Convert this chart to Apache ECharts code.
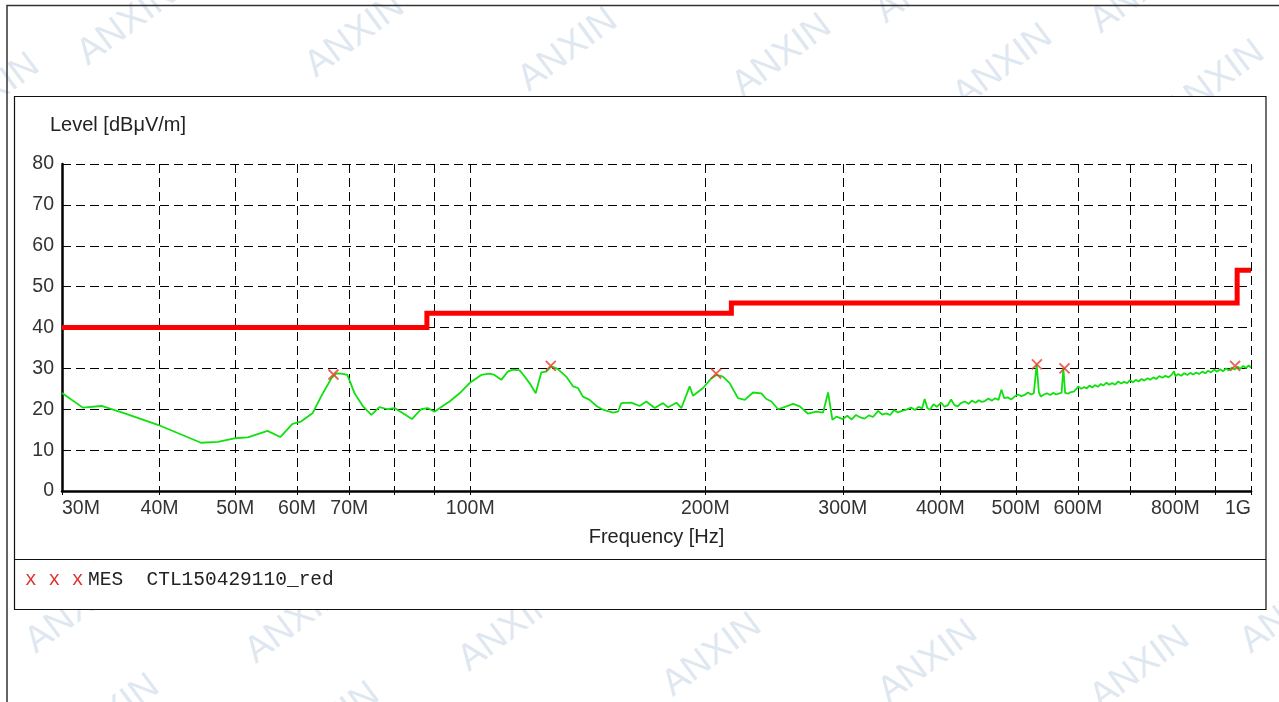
<!DOCTYPE html>
<html><head><meta charset="utf-8">
<script src="https://cdn.jsdelivr.net/npm/echarts@6/dist/echarts.min.js"></script>
<style>html,body{margin:0;padding:0;background:#fff}#c{width:1279px;height:702px}</style>
</head><body><div id="c"></div>
<script>
// ---- data ----
const gridFreqs = [30,40,50,60,70,80,90,100,200,300,400,500,600,700,800,900,1000];
const labelFreqs = [30,40,50,60,70,100,200,300,400,500,600,800,1000];
const yTicks = [0,10,20,30,40,50,60,70,80];
const limitFreq = [30,88,88,216,216,960,960,1000];
const limitLevel = [40,40,43.5,43.5,46,46,54,54];
const traceFreq = [30.0,31.9,33.7,36.1,39.8,45.2,47.5,49.9,51.9,55.0,57.1,59.2,60.7,62.8,64.4,66.4,67.4,68.4,69.6,71.1,72.9,74.7,76.5,78.4,80.0,82.0,84.2,86.5,88.2,90.0,92.7,94.1,96.9,99.8,103.3,105.9,107.4,109.6,111.7,113.4,115.7,117.4,119.1,121.3,123.3,125.1,127.0,129.5,132.7,135.4,137.4,139.4,142.2,145.1,147.9,152.3,154.6,156.1,160.8,164.8,168.1,172.3,176.5,179.2,183.7,186.4,191.0,192.9,198.7,203.7,206.7,210.7,214.9,220.3,224.7,230.3,236.0,239.5,243.1,247.9,254.1,259.1,264.3,270.8,277.6,283.1,287.3,291.0,294.5,
  300,304,308,312,316,320,324,328,333,337,341,345,349,353,357,362,367,371,375,379,382,385,388,392,396,401,405,409,413,417,421,425,430,435,439,444,448,452,456,461,466,470,475,479,483,488,493,498,503,508,513,518,523,527,530,531.5,535,538,543,548,553,558,563,568,572,575,578,583,588,593,597,601,606,611,616,621,626,631,637,642,647,653,658,664,670,676,682,688,694,700,706,712,718,724,730,737,743,750,756,763,770,777,784,791,797,800,807,814,821,829,836,843,851,858,866,874,881,889,897,905,913,921,929,937,945,953,961,969,977,985,993,1000];
const traceLevel = [24.0,20.4,20.8,19.0,16.2,11.8,12.0,12.9,13.1,14.7,13.2,16.4,17.0,19.0,23.1,27.6,28.8,28.7,28.4,23.9,20.7,18.6,20.5,20.0,20.3,19.0,17.6,20.0,20.3,19.4,21.1,21.9,23.9,26.4,28.4,28.7,28.4,27.2,29.2,29.7,29.5,28.0,26.4,23.9,29.0,29.2,30.5,29.8,28.0,25.6,25.2,23.1,22.3,20.8,19.9,19.2,19.4,21.5,21.6,20.8,21.9,20.3,21.5,20.5,21.6,20.3,25.6,23.3,25.2,27.6,28.4,28.0,26.4,22.7,22.3,24.1,23.9,22.5,21.9,20.0,20.7,21.3,20.7,18.9,19.4,19.2,24.1,17.4,18.2,
  17.6,18.4,17.5,18.6,18.0,17.7,18.5,18.1,19.6,18.7,19.0,18.6,19.8,19.2,19.6,19.9,20.4,19.8,20.6,20.2,22.5,20.3,19.9,21.2,20.6,21.6,20.6,21.0,22.4,21.0,20.7,21.5,21.9,21.3,22.1,21.6,22.2,21.8,22.0,22.6,22.1,22.7,22.3,24.8,22.7,22.9,22.4,23.1,23.6,23.2,23.5,24.1,23.6,23.9,24.0,31.0,24.1,23.1,23.6,23.9,23.5,24.0,23.6,23.9,24.0,30.1,24.0,23.8,24.2,24.3,24.9,25.6,25.0,25.4,25.1,25.8,25.3,25.9,25.5,26.2,25.8,26.5,26.0,26.4,26.0,26.8,26.3,26.7,26.4,27.1,26.6,27.2,26.8,27.4,27.0,27.6,27.2,27.8,27.4,28.1,27.7,28.2,27.8,28.4,29.3,28.1,28.6,28.2,28.8,28.4,28.9,28.5,29.0,28.6,29.2,28.8,29.4,29.0,29.7,29.2,29.8,29.3,30.0,29.5,30.2,29.7,30.4,29.9,30.6,30.1,30.7,30.2];
const markFreq = [66.8,126.8,206.5,531.8,577.0,954];
const markLevel = [28.5,30.6,28.7,31.0,30.0,30.6];
const legendMarks = 'x x x';
const legendText = 'MES  CTL150429110_red';
const yTitle = 'Level [dBμV/m]';
const xTitle = 'Frequency [Hz]';
const watermarkText = 'ANXIN';
const watermarkPos = [[127,24],[355,36],[568,50],[782,56],[1003,66],[1215,82],[-10,95],[925,-18],[1140,-8],[75,612],[295,622],[508,630],[712,655],[928,662],[1140,668],[1290,612],[110,716],[330,724]];

// ---- chart ----
const chart = echarts.init(document.getElementById('c'), null, {renderer:'canvas'});
const font = 'Liberation Sans, Arial, sans-serif';
const graphics = [];
watermarkPos.forEach(p => graphics.push({
  type:'text', x:p[0], y:p[1], rotation:0.64, z:-20,
  style:{text:watermarkText, x:0, y:0, align:'center', verticalAlign:'middle', fill:'#dfe7f1', font:'37px ' + font}
}));
graphics.push(
  {type:'polyline', z:-15, shape:{points:[[7,702],[7,5.5],[1279,5.5]]}, style:{stroke:'#333', lineWidth:1.5, fill:null}},
  {type:'rect', z:-10, shape:{x:14.5, y:96.5, width:1251.5, height:513}, style:{fill:'#fff', stroke:'#111', lineWidth:1.2}},
  {type:'line', z:-9, shape:{x1:14.5, y1:559.5, x2:1266, y2:559.5}, style:{stroke:'#111', lineWidth:1.2}},
  {type:'text', x:50, y:125, style:{text:yTitle, fill:'#222', font:'20px ' + font, verticalAlign:'middle'}},
  {type:'text', x:25, y:580, style:{text:legendMarks, fill:'#e03030', font:'19.5px Liberation Mono, monospace', verticalAlign:'middle'}},
  {type:'text', x:88, y:580, style:{text:legendText, fill:'#222', font:'19.5px Liberation Mono, monospace', verticalAlign:'middle'}}
);

const dash = {type:[9,5], color:'#000', width:1};
chart.setOption({
  animation:false,
  backgroundColor:'#fff',
  grid:{left:62, right:28, top:164, bottom:211, containLabel:false, outerBoundsMode:'none'},
  xAxis:{
    type:'log', logBase:10, min:30, max:1000,
    name:xTitle, nameLocation:'middle', nameGap:36,
    nameTextStyle:{fontSize:20, color:'#222', fontFamily:font},
    axisLine:{show:true, onZero:false, lineStyle:{color:'#000', width:2.5}},
    axisTick:{show:true, customValues:gridFreqs, length:4, lineStyle:{color:'#000'}},
    minorTick:{show:false}, minorSplitLine:{show:false},
    axisLabel:{customValues:labelFreqs, margin:8, fontSize:19.5, color:'#333', fontFamily:font,
      alignMinLabel:'left', alignMaxLabel:'right',
      formatter: v => v >= 1000 ? (v/1000) + 'G' : Math.round(v) + 'M'},
    splitLine:{show:true, lineStyle:dash}
  },
  yAxis:{
    type:'value', min:0, max:80, interval:10,
    axisLine:{show:true, lineStyle:{color:'#000', width:2.5}},
    axisTick:{show:false},
    axisLabel:{margin:8, fontSize:19.5, color:'#333', fontFamily:font,
      customValues:yTicks},
    splitLine:{show:true, lineStyle:dash}
  },
  graphic:{elements:graphics},
  series:[
    {type:'line', name:'limit', data:limitFreq.map((f,i)=>[f,limitLevel[i]]), showSymbol:false, symbol:'none',
     lineStyle:{color:'#ff0000', width:5, join:'miter'}, z:3},
    {type:'line', name:'trace', data:traceFreq.map((f,i)=>[f,traceLevel[i]]), showSymbol:false, symbol:'none',
     lineStyle:{color:'#10e010', width:1.8}, z:4},
    {type:'scatter', name:'MES', data:markFreq.map((f,i)=>[f,markLevel[i]]),
     symbol:'path://M0,0L10,10M10,0L0,10', symbolSize:10,
     itemStyle:{color:'rgba(0,0,0,0)', borderColor:'#e83a2a', borderWidth:1.8}, z:5}
  ]
});
</script></body></html>
